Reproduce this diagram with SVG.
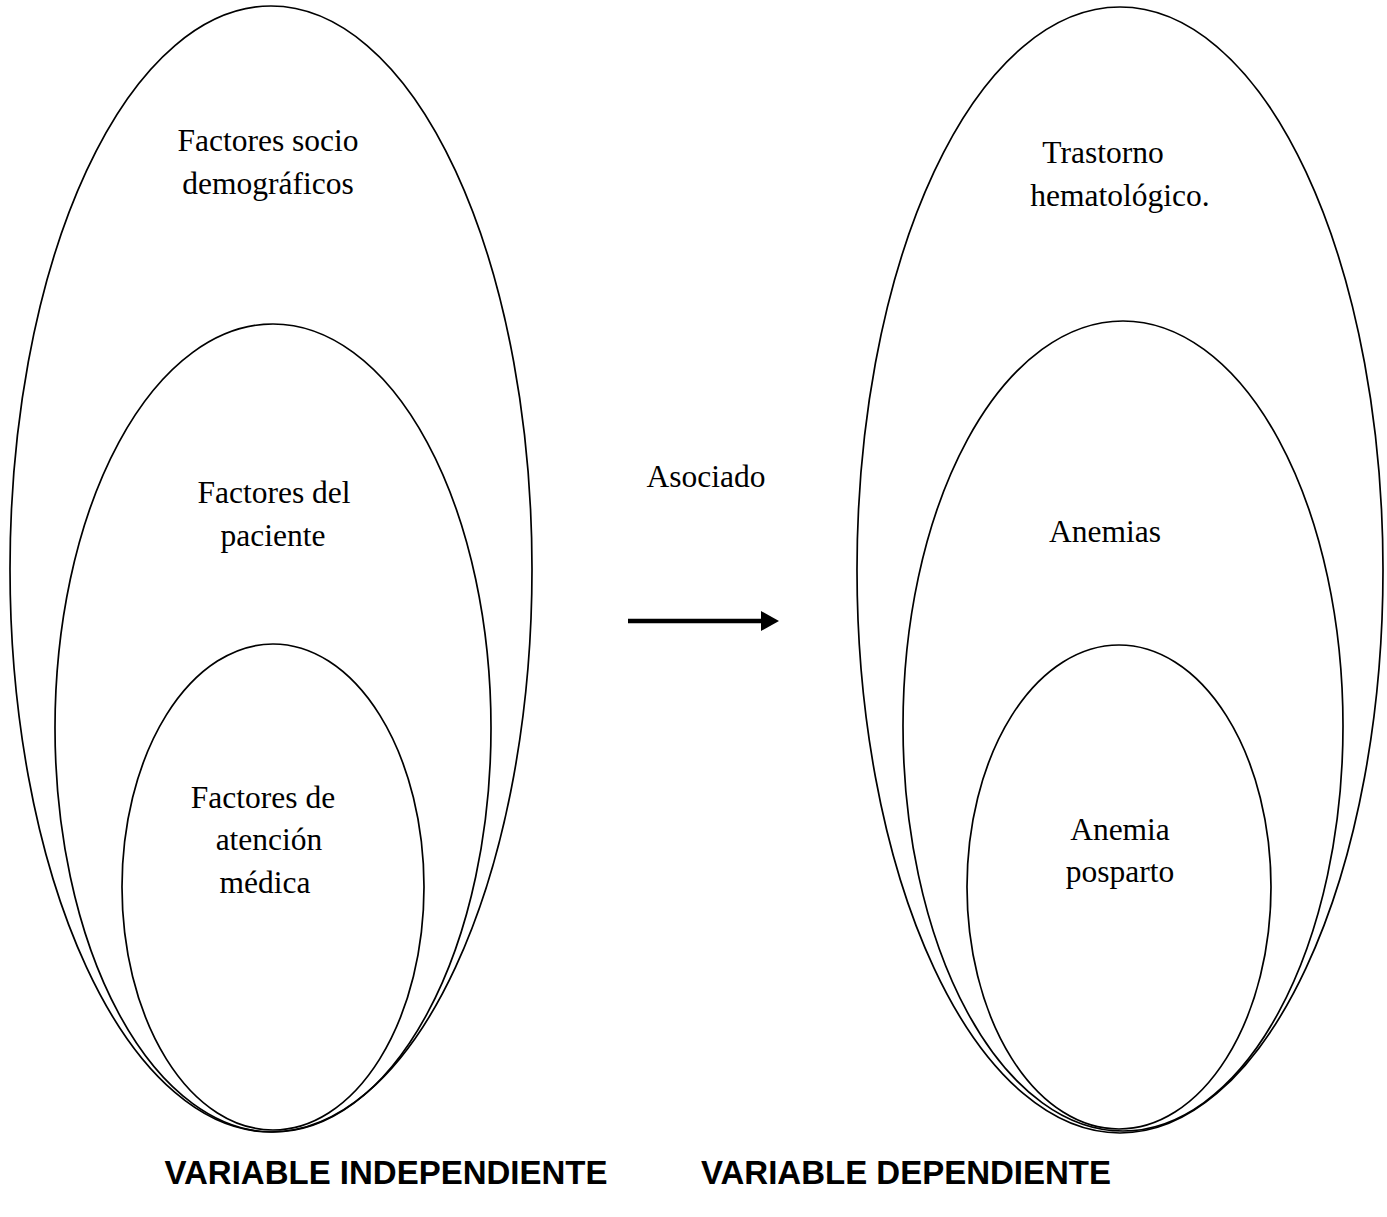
<svg xmlns="http://www.w3.org/2000/svg" width="1387" height="1217" viewBox="0 0 1387 1217">
<style>
.e{fill:none;stroke:#000;stroke-width:1.7}
.t{font-family:"Liberation Serif","Times New Roman",serif;font-size:31.5px;fill:#000;text-anchor:middle}
.b{font-family:"Liberation Sans",Arial,sans-serif;font-size:33px;font-weight:bold;fill:#000;text-anchor:middle}
</style>
<rect width="1387" height="1217" fill="#fff"/>
<g id="left-outer"><ellipse class="e" cx="271" cy="569" rx="261" ry="563"/><text class="t" x="268" y="151">Factores socio</text><text class="t" x="268" y="194">demográficos</text></g>
<g id="left-middle"><ellipse class="e" cx="273" cy="728" rx="218" ry="404"/><text class="t" x="274" y="503">Factores del</text><text class="t" x="273" y="546">paciente</text></g>
<g id="left-inner"><ellipse class="e" cx="273" cy="887" rx="151" ry="243"/><text class="t" x="263" y="808">Factores de</text><text class="t" x="269" y="850">atención</text><text class="t" x="265" y="893">médica</text></g>
<g id="right-outer"><ellipse class="e" cx="1120" cy="570" rx="263" ry="563"/><text class="t" x="1103" y="163">Trastorno</text><text class="t" x="1120" y="206">hematológico.</text></g>
<g id="right-middle"><ellipse class="e" cx="1123" cy="726" rx="220" ry="405"/><text class="t" x="1105" y="542">Anemias</text></g>
<g id="right-inner"><ellipse class="e" cx="1119" cy="887" rx="152" ry="242"/><text class="t" x="1120" y="840">Anemia</text><text class="t" x="1120" y="882">posparto</text></g>
<g id="connectors"><line x1="628" y1="621" x2="763" y2="621" stroke="#000" stroke-width="4.5"/><polygon points="761,611 779,621 761,631" fill="#000"/><text class="t" x="706" y="487">Asociado</text></g>
<g id="labels"><text class="b" x="386" y="1184">VARIABLE INDEPENDIENTE</text><text class="b" x="906" y="1184">VARIABLE DEPENDIENTE</text></g>
</svg>
